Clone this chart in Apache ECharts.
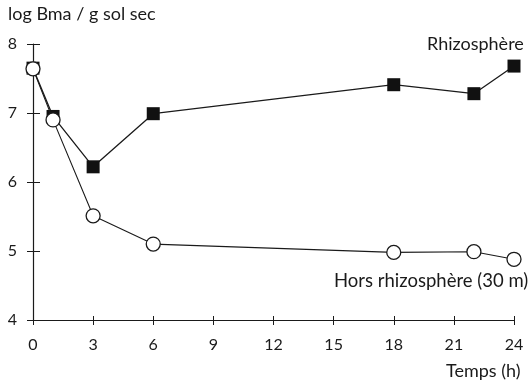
<!DOCTYPE html>
<html><head><meta charset="utf-8">
<script src="https://cdn.jsdelivr.net/npm/echarts@6/dist/echarts.min.js"></script>
<style>html,body{margin:0;padding:0;background:#fff}#c{width:531px;height:384px}</style>
</head><body><div id="c"></div>
<script>
var hours = [0, 1, 3, 6, 18, 22, 24];
var rhizosphere = [7.65, 6.95, 6.22, 6.99, 7.41, 7.28, 7.68];
var horsRhizosphere = [7.64, 6.90, 5.51, 5.10, 4.98, 4.99, 4.88];
var yAxisTitle = 'log Bma / g sol sec';
var xAxisTitle = 'Temps (h)';
var rhizoLabel = 'Rhizosphère';
var horsLabel = 'Hors rhizosphère (30 m)';

var FONT = 'Lato';
var INK = '#1a1a1a';
var chart = echarts.init(document.getElementById('c'), null, {renderer: 'canvas'});
function pairs(xs, ys){ return xs.map(function(x,i){return [x, ys[i]];}); }
var baseX = {type:'value', min:0, max:24, interval:3, splitLine:{show:false},
  axisLine:{lineStyle:{color:INK, width:1.2}}};
var baseY = {type:'value', min:4, max:8, interval:1, splitLine:{show:false},
  axisLine:{lineStyle:{color:INK, width:1.2}}};
chart.setOption({
  animation:false,
  grid:{left:33, right:17, top:44, bottom:64, containLabel:false},
  xAxis:[
    Object.assign({}, baseX, {axisTick:{inside:false, length:5, lineStyle:{color:INK}},
      axisLabel:{margin:17, fontFamily:FONT, fontSize:16, color:INK}}),
    Object.assign({}, baseX, {position:'bottom', axisLine:{show:false},
      axisTick:{inside:true, length:4, lineStyle:{color:INK}}, axisLabel:{show:false}})
  ],
  yAxis:[
    Object.assign({}, baseY, {axisTick:{inside:false, length:6, lineStyle:{color:INK}},
      axisLabel:{margin:16, fontFamily:FONT, fontSize:16, color:INK}}),
    Object.assign({}, baseY, {position:'left', axisLine:{show:false},
      axisTick:{inside:true, length:7, lineStyle:{color:INK}}, axisLabel:{show:false}})
  ],
  series:[
    {type:'line', name:rhizoLabel, data:pairs(hours, rhizosphere), symbol:'rect', symbolSize:13,
     lineStyle:{color:INK, width:1.3}, itemStyle:{color:'#111', borderColor:'#111', borderWidth:0}, z:3},
    {type:'line', name:horsLabel, data:pairs(hours, horsRhizosphere), symbol:'circle', symbolSize:14,
     lineStyle:{color:INK, width:1.1}, itemStyle:{color:'#fff', borderColor:INK, borderWidth:1.3}, z:4}
  ],
  graphic:[
    {type:'text', left:8, top:5, style:{text:yAxisTitle, font:'18px '+FONT, fill:INK}},
    {type:'text', left:427, top:35, style:{text:rhizoLabel, font:'18px '+FONT, fill:INK}},
    {type:'text', left:334, top:272, style:{text:horsLabel, font:'18.5px '+FONT, fill:INK}},
    {type:'text', left:446, top:362, style:{text:xAxisTitle, font:'18px '+FONT, fill:INK}}
  ]
});
</script></body></html>
